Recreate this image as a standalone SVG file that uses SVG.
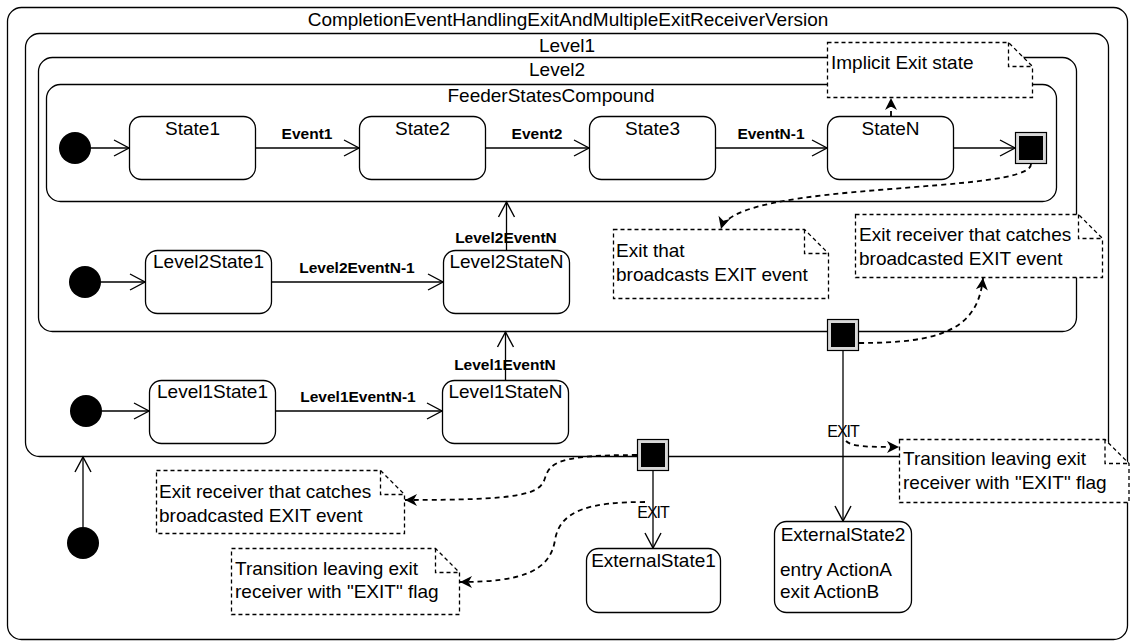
<svg xmlns="http://www.w3.org/2000/svg" width="1134" height="642" viewBox="0 0 1134 642">
  <style>
    text { font-family: "Liberation Sans", Arial, sans-serif; fill: #000; }
    .lbl { font-size: 19px; }
    .ctr { text-anchor: middle; }
    .ev { font-size: 15.5px; font-weight: bold; text-anchor: middle; }
    .flag { font-size: 16px; text-anchor: middle; letter-spacing: -1px; }
    .box { fill: #fff; stroke: #000; stroke-width: 1.3; }
    .init { fill: #000; }
    .tr { fill: none; stroke: #000; stroke-width: 1.3; marker-end: url(#open); }
    .link { fill: none; stroke: #000; stroke-width: 1.8; stroke-dasharray: 5 4; marker-end: url(#solid); }
    .note { fill: #fff; stroke: #000; stroke-width: 1.3; stroke-dasharray: 4 3; }
    .fold { fill: none; stroke: #000; stroke-width: 1.3; stroke-dasharray: 4 3; }
    .xo { fill: #d8d8d8; stroke: #000; stroke-width: 1.2; }
  </style>
  <defs>
    <marker id="open" markerUnits="userSpaceOnUse" viewBox="-16 -10 20 20" refX="0" refY="0" markerWidth="20" markerHeight="20" orient="auto" overflow="visible">
      <path d="M-15,-8 L0,0 L-15,8" fill="none" stroke="#000" stroke-width="1.4"/>
    </marker>
    <marker id="solid" markerUnits="userSpaceOnUse" viewBox="-14 -8 16 16" refX="0" refY="0" markerWidth="16" markerHeight="16" orient="auto" overflow="visible">
      <path d="M-12,-6 L0,0 L-12,6 L-8.5,0 Z" fill="#000"/>
    </marker>
  </defs>

  <rect width="1134" height="642" fill="#fff"/>

  <!-- composite states -->
  <g id="root">
    <rect class="box" x="7.5" y="7.5" width="1120" height="632" rx="14"/>
    <text class="lbl ctr" x="568" y="26">CompletionEventHandlingExitAndMultipleExitReceiverVersion</text>
  </g>
  <g id="level1">
    <rect class="box" x="25.5" y="33.5" width="1083" height="423" rx="14"/>
    <text class="lbl ctr" x="567" y="52">Level1</text>
  </g>
  <g id="level2">
    <rect class="box" x="38.5" y="57.5" width="1038" height="274" rx="14"/>
    <text class="lbl ctr" x="557" y="76">Level2</text>
  </g>
  <g id="feeder">
    <rect class="box" x="46.5" y="84.5" width="1010" height="117" rx="14"/>
    <text class="lbl ctr" x="551" y="102">FeederStatesCompound</text>
  </g>

  <!-- transitions and note links -->
  <g id="connectors">
    <path class="tr" d="M91,148 H129"/>
    <path class="tr" d="M255,148 H359"/>
    <path class="tr" d="M485,148 H589"/>
    <path class="tr" d="M715,148 H827"/>
    <path class="tr" d="M953,148 H1015"/>
    <path class="tr" d="M101,282 H145"/>
    <path class="tr" d="M271,282 H443"/>
    <path class="tr" d="M506.5,250 V202"/>
    <path class="tr" d="M102,411 H149"/>
    <path class="tr" d="M275,411 H442"/>
    <path class="tr" d="M505.5,380 V332"/>
    <path class="tr" d="M83,527 V457"/>
    <path class="tr" d="M653,471 V548"/>
    <path class="tr" d="M843,351 V521"/>

    <text class="ev" x="307" y="139">Event1</text>
    <text class="ev" x="537" y="139">Event2</text>
    <text class="ev" x="771" y="139">EventN-1</text>
    <text class="ev" x="357" y="273">Level2EventN-1</text>
    <text class="ev" x="506" y="243">Level2EventN</text>
    <text class="ev" x="358" y="402">Level1EventN-1</text>
    <text class="ev" x="505" y="370">Level1EventN</text>
    <text class="flag" x="653" y="518">EXIT</text>
    <text class="flag" x="843" y="437">EXIT</text>

    <path class="link" d="M891,116 V98"/>
    <path class="link" d="M1031,164 C1031,195 735,180 721,229"/>
    <path class="link" d="M859,343 C940,343 978,330 983,278"/>
    <path class="link" d="M637,455 C560,455 550,462 545,478 C540,495 520,500 405,500"/>
    <path class="link" d="M846,441 C852,447 870,447 899,447"/>
    <path class="link" d="M645,502 C590,502 560,510 555,540 C550,572 520,582 460,582"/>
  </g>

  <!-- initial pseudostates -->
  <g id="init-feeder"><circle class="init" cx="75" cy="148" r="16"/></g>
  <g id="init-level2"><circle class="init" cx="85" cy="282" r="16"/></g>
  <g id="init-level1"><circle class="init" cx="86" cy="411" r="16"/></g>
  <g id="init-root"><circle class="init" cx="83" cy="543" r="16"/></g>

  <!-- simple states -->
  <g id="state1">
    <rect class="box" x="129.5" y="116.5" width="126" height="63" rx="12"/>
    <text class="lbl ctr" x="192.5" y="135">State1</text>
  </g>
  <g id="state2">
    <rect class="box" x="359.5" y="116.5" width="126" height="63" rx="12"/>
    <text class="lbl ctr" x="422.5" y="135">State2</text>
  </g>
  <g id="state3">
    <rect class="box" x="589.5" y="116.5" width="126" height="63" rx="12"/>
    <text class="lbl ctr" x="652.5" y="135">State3</text>
  </g>
  <g id="stateN">
    <rect class="box" x="827.5" y="116.5" width="126" height="63" rx="12"/>
    <text class="lbl ctr" x="890.5" y="135">StateN</text>
  </g>
  <g id="level2State1">
    <rect class="box" x="145.5" y="250.5" width="126" height="63" rx="12"/>
    <text class="lbl ctr" x="208.5" y="268">Level2State1</text>
  </g>
  <g id="level2StateN">
    <rect class="box" x="443.5" y="250.5" width="126" height="63" rx="12"/>
    <text class="lbl ctr" x="506.5" y="268">Level2StateN</text>
  </g>
  <g id="level1State1">
    <rect class="box" x="149.5" y="380.5" width="126" height="63" rx="12"/>
    <text class="lbl ctr" x="212.5" y="398">Level1State1</text>
  </g>
  <g id="level1StateN">
    <rect class="box" x="442.5" y="380.5" width="126" height="63" rx="12"/>
    <text class="lbl ctr" x="505.5" y="398">Level1StateN</text>
  </g>
  <g id="externalState1">
    <rect class="box" x="586.5" y="548.5" width="134" height="64" rx="12"/>
    <text class="lbl ctr" x="653.5" y="567">ExternalState1</text>
  </g>
  <g id="externalState2">
    <rect class="box" x="774.5" y="521.5" width="137" height="91" rx="12"/>
    <text class="lbl ctr" x="843" y="541">ExternalState2</text>
    <text class="lbl" x="780" y="576">entry ActionA</text>
    <text class="lbl" x="780" y="598">exit ActionB</text>
  </g>

  <!-- exit points -->
  <g id="exit-feeder">
    <rect class="xo" x="1015.5" y="132.5" width="31" height="31"/>
    <rect x="1019" y="136" width="24" height="24" fill="#000"/>
  </g>
  <g id="exit-level2">
    <rect class="xo" x="827.5" y="319.5" width="31" height="31"/>
    <rect x="831" y="323" width="24" height="24" fill="#000"/>
  </g>
  <g id="exit-level1">
    <rect class="xo" x="637.5" y="439.5" width="31" height="31"/>
    <rect x="641" y="443" width="24" height="24" fill="#000"/>
  </g>

  <!-- notes -->
  <g id="note-implicit">
    <path class="note" d="M827.5,42.5 H1008.5 L1032.5,66.5 V97.5 H827.5 Z"/>
    <path class="fold" d="M1008.5,42.5 V66.5 H1032.5"/>
    <text class="lbl" x="831" y="69">Implicit Exit state</text>
  </g>
  <g id="note-broadcast">
    <path class="note" d="M613.5,229.5 H804.5 L828.5,253.5 V298.5 H613.5 Z"/>
    <path class="fold" d="M804.5,229.5 V253.5 H828.5"/>
    <text class="lbl" x="616" y="257">Exit that</text>
    <text class="lbl" x="616" y="281">broadcasts EXIT event</text>
  </g>
  <g id="note-receiver-level2">
    <path class="note" d="M855.5,214.5 H1078.5 L1102.5,238.5 V277.5 H855.5 Z"/>
    <path class="fold" d="M1078.5,214.5 V238.5 H1102.5"/>
    <text class="lbl" x="859" y="241">Exit receiver that catches</text>
    <text class="lbl" x="859" y="265">broadcasted EXIT event</text>
  </g>
  <g id="note-flag-level2">
    <path class="note" d="M899.5,439.5 H1105 L1129,463.5 V502.5 H899.5 Z"/>
    <path class="fold" d="M1105,439.5 V463.5 H1129"/>
    <text class="lbl" x="903" y="465">Transition leaving exit</text>
    <text class="lbl" x="903" y="489">receiver with "EXIT" flag</text>
  </g>
  <g id="note-receiver-level1">
    <path class="note" d="M156.5,470.5 H380.5 L404.5,494.5 V533.5 H156.5 Z"/>
    <path class="fold" d="M380.5,470.5 V494.5 H404.5"/>
    <text class="lbl" x="159" y="498">Exit receiver that catches</text>
    <text class="lbl" x="159" y="522">broadcasted EXIT event</text>
  </g>
  <g id="note-flag-level1">
    <path class="note" d="M231.5,548.5 H435.5 L459.5,572.5 V614.5 H231.5 Z"/>
    <path class="fold" d="M435.5,548.5 V572.5 H459.5"/>
    <text class="lbl" x="235" y="575">Transition leaving exit</text>
    <text class="lbl" x="235" y="598">receiver with "EXIT" flag</text>
  </g>
</svg>
